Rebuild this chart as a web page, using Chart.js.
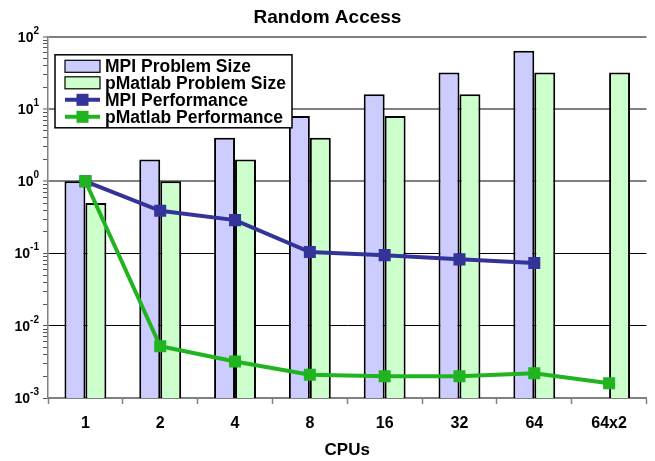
<!DOCTYPE html>
<html>
<head>
  <title>Random Access</title>
  <script src="https://cdn.jsdelivr.net/npm/chart.js"></script>
  <style>
    body { margin: 0; background: #fff; }
    #wrap { width: 655px; height: 461px; }
  </style>
</head>
<body>
<div id="wrap"><canvas id="myChart"></canvas></div>
<script>
// Values
const categories = ['1', '2', '4', '8', '16', '32', '64', '64x2'];
const mpiSize = [1, 2, 4, 8, 16, 32, 64, null];
const pmatlabSize = [0.5, 1, 2, 4, 8, 16, 32, 32];
const mpiPerf = [1, 0.39, 0.29, 0.105, 0.095, 0.083, 0.074, null];
const pmatlabPerf = [1, 0.0052, 0.0032, 0.0021, 0.002, 0.002, 0.0022, 0.0016];
const yMajorTicks = [0.001, 0.01, 0.1, 1, 10, 100];
const yTickExps = ['-3', '-2', '-1', '0', '1', '2'];

const FONT = "'Liberation Sans', Arial, sans-serif";

// y ticks: majors plus minor 2..9 per decade
function logTicks() {
  const ticks = [];
  for (let e = -3; e <= 2; e++) {
    const base = Math.pow(10, e);
    ticks.push({ value: base, major: true });
    if (e < 2) {
      for (let k = 2; k <= 9; k++) ticks.push({ value: k * base, major: false });
    }
  }
  return ticks;
}

// draws 10^n labels with real superscripts
const yLabels = {
  id: 'yLabels',
  afterDraw(chart) {
    const ctx = chart.ctx;
    const y = chart.scales.y;
    ctx.save();
    ctx.fillStyle = '#000';
    ctx.textBaseline = 'middle';
    yMajorTicks.forEach((v, i) => {
      const py = y.getPixelForValue(v);
      ctx.font = 'bold 10px ' + FONT;
      const ew = ctx.measureText(yTickExps[i]).width;
      const right = y.right - 9;
      ctx.textAlign = 'left';
      ctx.fillText(yTickExps[i], right - ew, py - 6);
      ctx.font = 'bold 14px ' + FONT;
      ctx.textAlign = 'right';
      ctx.fillText('10', right - ew, py + 1);
    });
    ctx.restore();
  }
};

// legend box inside the plot area
const boxLegend = {
  id: 'boxLegend',
  afterDraw(chart) {
    const ctx = chart.ctx;
    const a = chart.chartArea;
    const x0 = a.left + 7, y0 = a.top + 18, w = 237, h = 73;
    ctx.save();
    ctx.fillStyle = '#fff';
    ctx.fillRect(x0, y0, w, h);
    ctx.strokeStyle = '#000';
    ctx.lineWidth = 1.5;
    ctx.strokeRect(x0, y0, w, h);
    const rows = [11.5, 28, 45, 62];
    ctx.font = 'bold 17.5px ' + FONT;
    ctx.textBaseline = 'middle';
    chart.data.datasets.forEach((ds, i) => {
      const cy = y0 + rows[i];
      const sx = x0 + 10;
      if (ds.type === 'line') {
        ctx.strokeStyle = ds.borderColor;
        ctx.lineWidth = 4;
        ctx.beginPath();
        ctx.moveTo(sx, cy);
        ctx.lineTo(sx + 35, cy);
        ctx.stroke();
        ctx.fillStyle = ds.borderColor;
        ctx.fillRect(sx + 11.5, cy - 6, 12, 12);
      } else {
        ctx.fillStyle = ds.backgroundColor;
        ctx.fillRect(sx, cy - 6, 35, 12);
        ctx.strokeStyle = '#000';
        ctx.lineWidth = 1.2;
        ctx.strokeRect(sx, cy - 6, 35, 12);
      }
      ctx.fillStyle = '#000';
      ctx.fillText(ds.label, sx + 40, cy + 1);
    });
    ctx.restore();
  }
};

const chart = new Chart(document.getElementById('myChart'), {
  data: {
    labels: categories,
    datasets: [
      {
        type: 'bar', label: 'MPI Problem Size', data: mpiSize,
        backgroundColor: '#ccccff', borderColor: '#000', borderWidth: 2,
        categoryPercentage: 0.56, barPercentage: 1, order: 3
      },
      {
        type: 'bar', label: 'pMatlab Problem Size', data: pmatlabSize,
        backgroundColor: '#ccffcc', borderColor: '#000', borderWidth: 2,
        categoryPercentage: 0.56, barPercentage: 1, order: 3
      },
      {
        type: 'line', label: 'MPI Performance', data: mpiPerf,
        borderColor: '#333399', backgroundColor: '#333399', borderWidth: 4,
        pointStyle: 'rect', pointRadius: 8.5, pointBorderWidth: 0, order: 2
      },
      {
        type: 'line', label: 'pMatlab Performance', data: pmatlabPerf,
        borderColor: '#20b420', backgroundColor: '#20b420', borderWidth: 4,
        pointStyle: 'rect', pointRadius: 8.5, pointBorderWidth: 0, order: 1
      }
    ]
  },
  options: {
    responsive: true,
    maintainAspectRatio: false,
    animation: false,
    layout: { padding: { left: 0, right: 0, top: 0, bottom: 0 } },
    plugins: {
      legend: { display: false },
      tooltip: { enabled: false },
      title: {
        display: true, text: 'Random Access', color: '#000',
        font: { family: FONT, size: 19, weight: 'bold' },
        padding: { top: 6, bottom: 8 }
      }
    },
    scales: {
      x: {
        offset: true,
        afterFit: scale => { scale.height = 63; },
        grid: {
          offset: true, drawOnChartArea: false,
          tickLength: 6, tickColor: '#808080', tickWidth: 1.5
        },
        border: { color: '#808080', width: 2 },
        ticks: {
          color: '#000', padding: 10, maxRotation: 0,
          font: { family: FONT, size: 16, weight: 'bold' }
        },
        title: {
          display: true, text: 'CPUs', color: '#000',
          font: { family: FONT, size: 17, weight: 'bold' },
          padding: { top: 8, bottom: 0 }
        }
      },
      y: {
        type: 'logarithmic',
        min: 0.001, max: 100,
        afterBuildTicks: scale => { scale.ticks = logTicks(); },
        afterFit: scale => { scale.width = 48; },
        grid: {
          color: c => c.tick && c.tick.major ? (c.tick.value >= 1 ? '#808080' : '#000') : 'rgba(0,0,0,0)',
          lineWidth: c => c.tick && c.tick.major && c.tick.value >= 1 ? 2 : 1,
          tickColor: '#555', tickLength: 5, tickWidth: 1
        },
        border: { color: '#808080', width: 1.5 },
        ticks: { display: false }
      }
    }
  },
  plugins: [yLabels, boxLegend]
});
</script>
</body>
</html>
